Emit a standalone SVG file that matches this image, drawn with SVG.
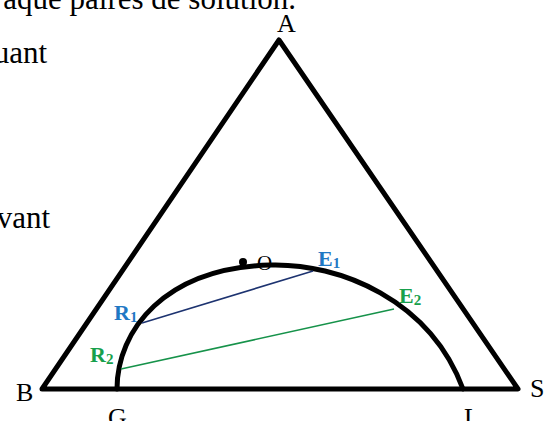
<svg xmlns="http://www.w3.org/2000/svg" width="558" height="421" viewBox="0 0 558 421">
<style>
.body{font-family:"Liberation Serif","Times New Roman",serif;font-size:31px;fill:#000}
.lbl{font-family:"Liberation Serif","Times New Roman",serif;font-size:26px;fill:#000}
.pt{font-family:"Liberation Serif","Times New Roman",serif;font-size:22px;font-weight:bold}
.sub{font-size:15px}
.blue{fill:#1f78c4}
.green{fill:#17a04c}
.thick{fill:none;stroke:#000;stroke-width:5;stroke-linejoin:round;stroke-linecap:round}
</style>
<rect width="558" height="421" fill="#fff"/>
<g id="bodytext">
<text class="body" x="296" y="9" text-anchor="end">aque paires de solution.</text>
<text class="body" x="47" y="63" text-anchor="end">uant</text>
<text class="body" x="50" y="228" text-anchor="end">vant</text>
</g>
<g id="triangle">
<polygon class="thick" points="42,389 279,40 518,389"/>
</g>
<g id="binodal">
<path class="thick" d="M117,389 C117,330 165,268 270,265 C340,263 430,300 463,389"/>
</g>
<g id="connectors">
<line x1="142" y1="323" x2="313" y2="271" stroke="#1d3370" stroke-width="1.6"/>
<line x1="121" y1="369" x2="394" y2="309" stroke="#16924a" stroke-width="1.6"/>
</g>
<g id="vertexA"><text class="lbl" x="277" y="32">A</text></g>
<g id="vertexB"><text class="lbl" x="16" y="401">B</text></g>
<g id="vertexS"><text class="lbl" x="530" y="397">S</text></g>
<g id="pointG"><text class="lbl" x="108" y="426">G</text></g>
<g id="pointL"><text class="lbl" x="464" y="426">L</text></g>
<g id="pointO">
<circle cx="243" cy="262" r="4" fill="#000"/>
<text class="lbl" x="257" y="270" style="font-size:21px">O</text>
</g>
<g id="R1"><text class="pt blue" x="114" y="320">R<tspan class="sub" dy="2">1</tspan></text></g>
<g id="R2"><text class="pt green" x="90" y="362">R<tspan class="sub" dy="2">2</tspan></text></g>
<g id="E1"><text class="pt blue" x="318" y="266">E<tspan class="sub" dy="2">1</tspan></text></g>
<g id="E2"><text class="pt green" x="399" y="303">E<tspan class="sub" dy="2">2</tspan></text></g>
</svg>
